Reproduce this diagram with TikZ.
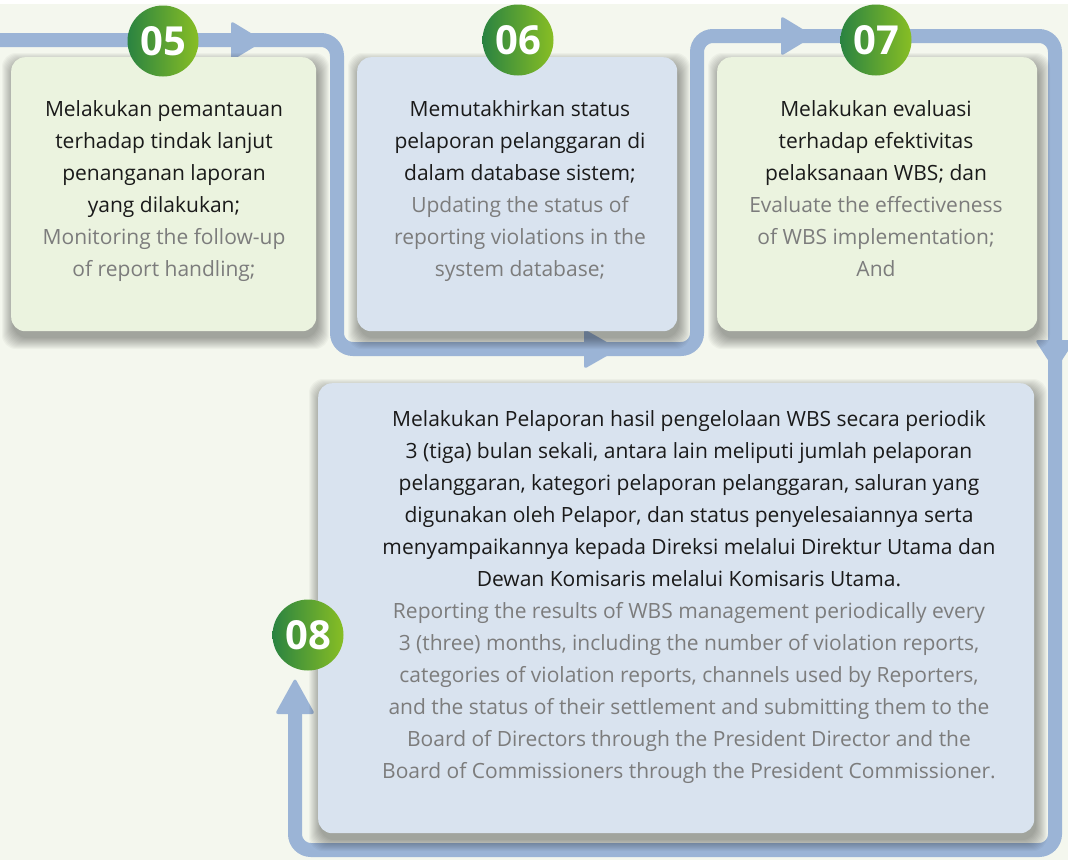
\documentclass[tikz,border=0pt]{standalone}
\usepackage{fontspec}
\setmainfont{Open Sans}
\definecolor{bg}{HTML}{F4F7EE}
\definecolor{flow}{HTML}{9BB4D6}
\definecolor{gbox}{HTML}{EBF3DF}
\definecolor{bbox}{HTML}{D9E3EF}
\definecolor{gdark}{HTML}{2A8341}
\definecolor{glight}{HTML}{88BE24}
\definecolor{txt}{HTML}{1A1A1A}
\definecolor{gry}{HTML}{7C7C7C}
\newcommand\en[1]{\textcolor{gry}{#1}}
\newcommand\dropshadow[4]{%
  \foreach \e in {0,...,11}{%
    \fill[black,opacity=0.032,rounded corners=14pt] ({#1+2-\e},{#2+7-\e}) rectangle ({#3+2+\e},{#4+7+\e});}}
\tikzset{
  card/.style={rounded corners=14pt, inner sep=0pt, anchor=north west},
  greencard/.style={card, fill=gbox},
  bluecard/.style={card, fill=bbox},
  cardtext/.style={align=center, inner sep=0pt, anchor=north, text=txt, font=\fontsize{21}{32}\selectfont},
  numcirc/.style={circle, minimum size=71pt, inner sep=0pt, left color=gdark, right color=glight, text=white, font=\fontsize{40}{42}\selectfont\bfseries},
  flowline/.style={draw=flow, line width=14pt, rounded corners=16pt},
  flowhead/.style={fill=flow, rounded corners=3pt}
}
\begin{document}
\begin{tikzpicture}[x=1pt,y=-1pt]
\useasboundingbox (0,0) rectangle (1068,860);
\fill[bg] (0,0) rectangle (1068,860);
\fill[white] (0,0) rectangle (1068,4);

% flow path corners
\coordinate (p0) at (-10,40);
\coordinate (p1) at (337,40);
\coordinate (p2) at (337,349);
\coordinate (p3) at (697,349);
\coordinate (p4) at (697,36);
\coordinate (p5) at (1055,36);
\coordinate (p6) at (1055,850);
\coordinate (p7) at (295,850);
\coordinate (p8) at (295,705);
\draw[flowline] (p0) -- (p1) -- (p2) -- (p3) -- (p4) -- (p5) -- (p6) -- (p7) -- (p8);

% arrow heads
\fill[flowhead] (264,41) -- (231,21) -- (231,61) -- cycle;
\fill[flowhead] (619,349) -- (584,329) -- (584,369) -- cycle;
\fill[flowhead] (814,36) -- (781,16) -- (781,56) -- cycle;
\fill[flowhead] (1055,371) -- (1035,340) -- (1075,340) -- cycle;
\fill[flowhead] (295,678) -- (275,714) -- (315,714) -- cycle;

% shadows
\dropshadow{11}{57}{316}{331}
\dropshadow{357}{57}{677}{331}
\dropshadow{717}{57}{1037}{331}
\dropshadow{318}{383}{1034}{833}

% cards
\node[greencard, minimum width=305pt, minimum height=274pt] (b5) at (11,57) {};
\node[bluecard, minimum width=320pt, minimum height=274pt] (b6) at (357,57) {};
\node[greencard, minimum width=320pt, minimum height=274pt] (b7) at (717,57) {};
\node[bluecard, minimum width=716pt, minimum height=450pt] (b8) at (318,383) {};

% texts
\node[cardtext] (t5) at (164,93.6) {\strut Melakukan pemantauan\\ terhadap tindak lanjut\\ penanganan laporan\\ yang dilakukan;\\ \en{Monitoring the follow-up}\\ \en{of report handling;}};
\node[cardtext] (t6) at (520,93.6) {\strut Memutakhirkan status\\ pelaporan pelanggaran di\\ dalam database sistem;\\ \en{Updating the status of}\\ \en{reporting violations in the}\\ \en{system database;}};
\node[cardtext] (t7) at (876,93.6) {\strut Melakukan evaluasi\\ terhadap efektivitas\\ pelaksanaan WBS; dan\\ \en{Evaluate the effectiveness}\\ \en{of WBS implementation;}\\ \en{And}};
\node[cardtext] (t8) at (689,403.6) {\strut Melakukan Pelaporan hasil pengelolaan WBS secara periodik\\
3 (tiga) bulan sekali, antara lain meliputi jumlah pelaporan\\
pelanggaran, kategori pelaporan pelanggaran, saluran yang\\
digunakan oleh Pelapor, dan status penyelesaiannya serta\\
menyampaikannya kepada Direksi melalui Direktur Utama dan\\
Dewan Komisaris melalui Komisaris Utama.\\
\en{Reporting the results of WBS management periodically every}\\
\en{3 (three) months, including the number of violation reports,}\\
\en{categories of violation reports, channels used by Reporters,}\\
\en{and the status of their settlement and submitting them to the}\\
\en{Board of Directors through the President Director and the}\\
\en{Board of Commissioners through the President Commissioner.}};

% number circles
\node[numcirc] (c5) at (163,41) {05};
\node[numcirc] (c6) at (518,40) {06};
\node[numcirc] (c7) at (876,40) {07};
\node[numcirc] (c8) at (308,635) {08};
\end{tikzpicture}
\end{document}
